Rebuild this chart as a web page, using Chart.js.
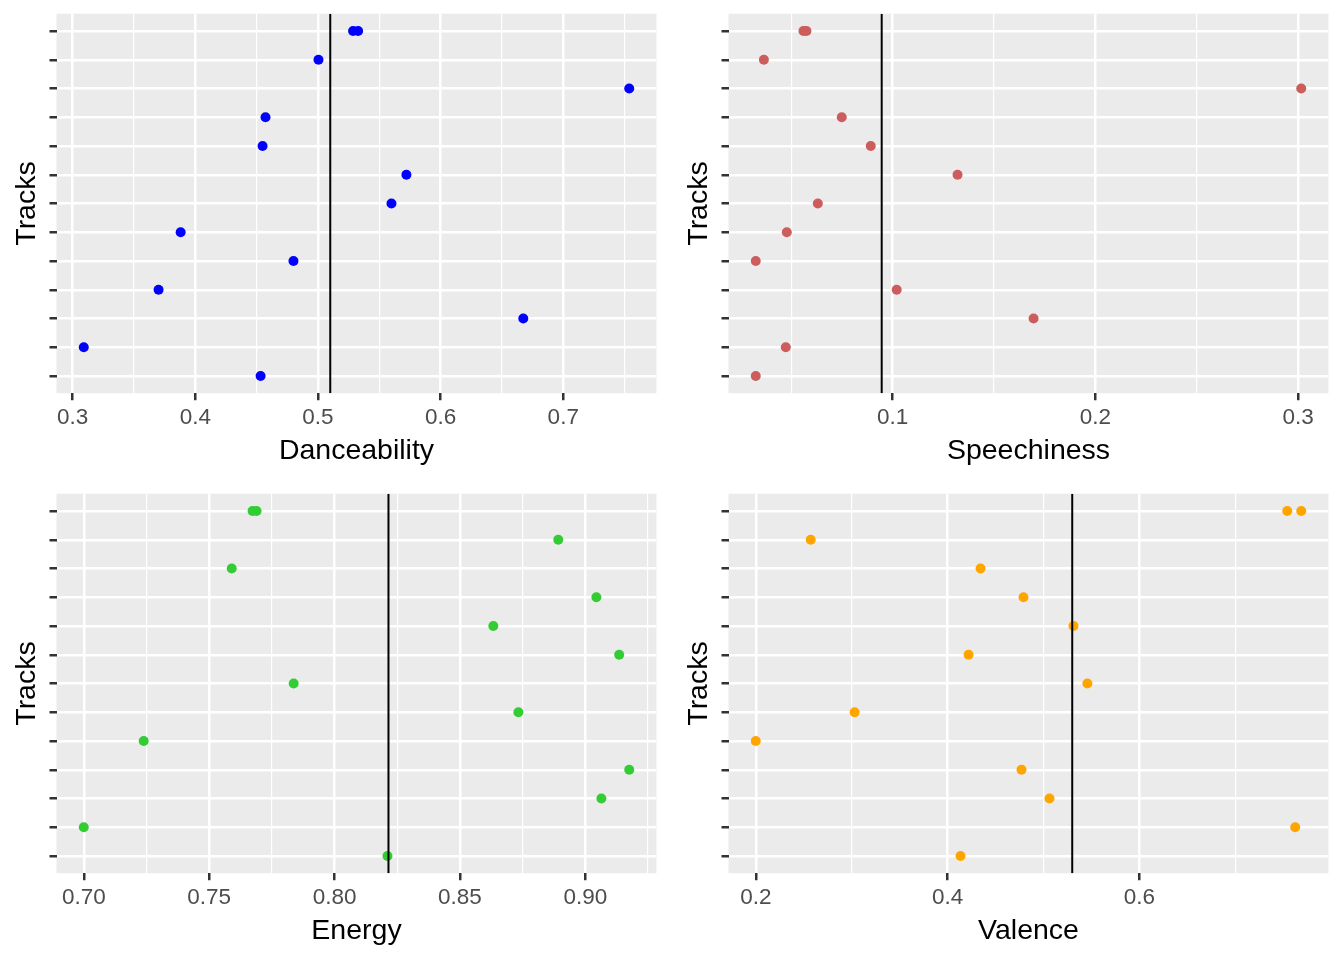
<!DOCTYPE html>
<html>
<head>
<meta charset="utf-8">
<script src="https://cdn.jsdelivr.net/npm/chart.js@4/dist/chart.umd.min.js"></script>
<style>
  html, body { margin: 0; padding: 0; background: #fff; }
  #wrap { position: relative; width: 1344px; height: 960px; }
  .cell { position: absolute; width: 672px; height: 480px; }
</style>
</head>
<body>
<div id="wrap">
  <div class="cell" style="left:0;top:0"><canvas id="dance" width="672" height="480"></canvas></div>
  <div class="cell" style="left:672px;top:0"><canvas id="speech" width="672" height="480"></canvas></div>
  <div class="cell" style="left:0;top:480px"><canvas id="energy" width="672" height="480"></canvas></div>
  <div class="cell" style="left:672px;top:480px"><canvas id="valence" width="672" height="480"></canvas></div>
</div>
<script>
// row of each track on the Tracks axis (1 = top); the first two tracks share a row
const trackRows = [1, 1, 2, 3, 4, 5, 6, 7, 8, 9, 10, 11, 12, 13];

const danceability = [0.5286, 0.5327, 0.5004, 0.7538, 0.4572, 0.4548, 0.5721, 0.5599, 0.388, 0.480, 0.370, 0.6674, 0.309, 0.4532];
const speechiness = [0.0560, 0.0575, 0.0365, 0.3015, 0.0749, 0.0892, 0.132, 0.0631, 0.0478, 0.0325, 0.102, 0.1695, 0.0473, 0.0325];
const energy = [0.7673, 0.7689, 0.8892, 0.759, 0.9044, 0.8633, 0.9135, 0.7837, 0.8733, 0.7239, 0.9175, 0.9064, 0.700, 0.8211];
const valence = [0.7542, 0.7688, 0.2573, 0.4344, 0.4792, 0.5313, 0.4219, 0.5458, 0.3031, 0.200, 0.4771, 0.5063, 0.7625, 0.4135];

// reference lines
const danceMean = 0.510;
const speechMean = 0.0946;
const energyMean = 0.8215;
const valenceMean = 0.530;

// x tick labels
const danceTicks = ['0.3', '0.4', '0.5', '0.6', '0.7'];
const speechTicks = ['0.1', '0.2', '0.3'];
const energyTicks = ['0.70', '0.75', '0.80', '0.85', '0.90'];
const valenceTicks = ['0.2', '0.4', '0.6'];

const bgPlugin = {
    id: 'panelBg',
    beforeDraw(chart) {
        const a = chart.chartArea;
        const ctx = chart.ctx;
        ctx.save();
        ctx.fillStyle = '#EBEBEB';
        ctx.fillRect(a.left, a.top, a.right - a.left, a.bottom - a.top);
        ctx.restore();
    }
};

function makePanel(id, values, color, mean, tickLabels, title) {
    const lo = Math.min(...values), hi = Math.max(...values);
    const pad = (hi - lo) * 0.05;
    const xMin = lo - pad, xMax = hi + pad;

    const major = tickLabels.map(Number);
    const step = major[1] - major[0];
    const minor = [major[0] - step / 2];
    for (const m of major) minor.push(m + step / 2);
    const allTicks = major.concat(minor).filter(v => v >= xMin && v <= xMax).sort((a, b) => a - b);
    const isMajor = v => major.some(m => Math.abs(m - v) < 1e-9);
    const labelFor = v => {
        const i = major.findIndex(m => Math.abs(m - v) < 1e-9);
        return i >= 0 ? tickLabels[i] : '';
    };

    const rows = [...new Set(trackRows)];
    const yMin = Math.min(...rows) - 0.6, yMax = Math.max(...rows) + 0.6;

    new Chart(document.getElementById(id), {
        type: 'scatter',
        data: {
            datasets: [{
                data: values.map((v, i) => ({ x: v, y: trackRows[i] })),
                backgroundColor: color,
                pointRadius: 5,
                pointBorderWidth: 0,
                pointHoverRadius: 5,
                order: 1
            }, {
                type: 'line',
                data: [{ x: mean, y: yMin }, { x: mean, y: yMax }],
                borderColor: '#000',
                borderWidth: 2,
                pointRadius: 0,
                order: 0
            }]
        },
        options: {
            responsive: false,
            animation: false,
            layout: { padding: { top: 13.75, right: 15.5, left: 0, bottom: 0 } },
            plugins: { legend: { display: false }, tooltip: { enabled: false } },
            scales: {
                x: {
                    type: 'linear',
                    min: xMin,
                    max: xMax,
                    afterBuildTicks: s => { s.ticks = allTicks.map(v => ({ value: v })); },
                    afterFit: s => { s.height = 86.75; },
                    border: { display: false },
                    grid: {
                        color: '#FFFFFF',
                        lineWidth: c => isMajor(c.tick.value) ? 2.5 : 1.2,
                        tickColor: c => isMajor(c.tick.value) ? '#333333' : 'rgba(0,0,0,0)',
                        tickWidth: 2.5,
                        tickLength: 7
                    },
                    ticks: {
                        autoSkip: false,
                        maxRotation: 0,
                        padding: 4,
                        color: '#4D4D4D',
                        font: { family: 'Liberation Sans', size: 22.5 },
                        callback: v => labelFor(v)
                    },
                    title: {
                        display: true,
                        text: title,
                        color: '#000',
                        font: { family: 'Liberation Sans', size: 28.5 },
                        padding: { top: 3, bottom: 11.5 }
                    }
                },
                y: {
                    type: 'linear',
                    reverse: true,
                    min: yMin,
                    max: yMax,
                    afterBuildTicks: s => { s.ticks = rows.map(v => ({ value: v })); },
                    afterFit: s => { s.width = 56.5; },
                    border: { display: false },
                    grid: {
                        color: '#FFFFFF',
                        lineWidth: 2.5,
                        tickColor: '#333333',
                        tickWidth: 2.5,
                        tickLength: 7
                    },
                    ticks: { display: false },
                    title: {
                        display: true,
                        text: 'Tracks',
                        color: '#000',
                        font: { family: 'Liberation Sans', size: 28.5 },
                        padding: { top: 10.5, bottom: 0 }
                    }
                }
            }
        },
        plugins: [bgPlugin]
    });
}

makePanel('dance', danceability, '#0000FF', danceMean, danceTicks, 'Danceability');
makePanel('speech', speechiness, '#CD5C5C', speechMean, speechTicks, 'Speechiness');
makePanel('energy', energy, '#32CD32', energyMean, energyTicks, 'Energy');
makePanel('valence', valence, '#FFA500', valenceMean, valenceTicks, 'Valence');
</script>
</body>
</html>
